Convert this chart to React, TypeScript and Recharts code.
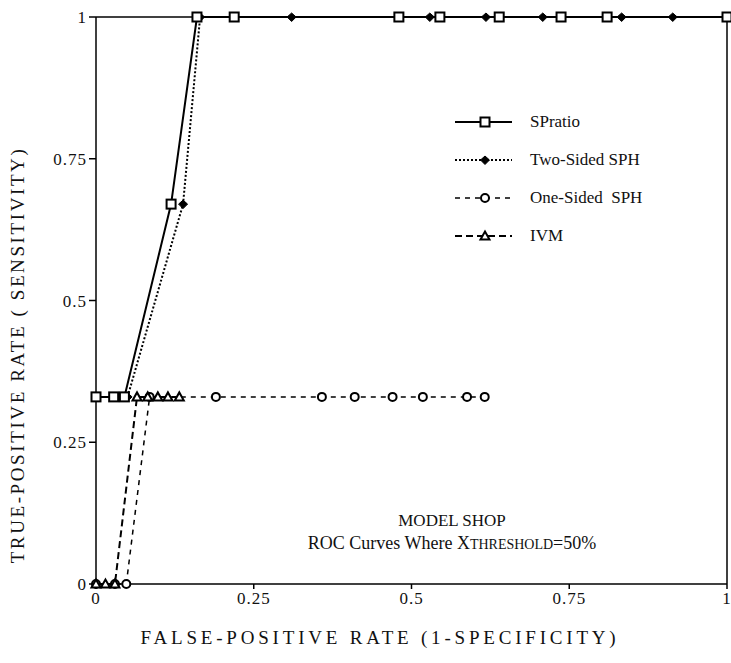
import React from 'react';
import { LineChart, Line, XAxis, YAxis, ReferenceLine, Label } from 'recharts';

// false-positive rate (x) / true-positive rate (y) per method
const spRatioFpr = [0, 0.028, 0.045, 0.119, 0.16, 0.219, 0.48, 0.545, 0.639, 0.737, 0.81, 1];
const spRatioTpr = [0.33, 0.33, 0.33, 0.67, 1, 1, 1, 1, 1, 1, 1, 1];

const twoSidedFpr = [0.05, 0.138, 0.165, 0.31, 0.529, 0.618, 0.708, 0.833, 0.914, 1];
const twoSidedTpr = [0.33, 0.67, 1, 1, 1, 1, 1, 1, 1, 1];

const oneSidedFpr = [0, 0.03, 0.048, 0.085, 0.19, 0.358, 0.41, 0.47, 0.518, 0.588, 0.616];
const oneSidedTpr = [0, 0, 0, 0.33, 0.33, 0.33, 0.33, 0.33, 0.33, 0.33, 0.33];

const ivmFpr = [0, 0.015, 0.03, 0.065, 0.082, 0.098, 0.114, 0.132];
const ivmTpr = [0, 0, 0, 0.33, 0.33, 0.33, 0.33, 0.33];

const axisTicks = [0, 0.25, 0.5, 0.75, 1];

const toPoints = (xs: number[], ys: number[]) => xs.map((x, i) => ({ x, y: ys[i] }));

const spRatio = toPoints(spRatioFpr, spRatioTpr);
const twoSided = toPoints(twoSidedFpr, twoSidedTpr);
const oneSided = toPoints(oneSidedFpr, oneSidedTpr);
const ivm = toPoints(ivmFpr, ivmTpr);

const FONT = '"Liberation Serif", "Times New Roman", serif';

const SquareMark = ({ cx, cy }: any) => (
  <rect x={cx - 4.5} y={cy - 4.5} width={9} height={9} fill="#fff" stroke="#000" strokeWidth={2} />
);
const DiamondMark = ({ cx, cy }: any) => (
  <path d={`M${cx - 4.5},${cy} L${cx},${cy - 4} L${cx + 4.5},${cy} L${cx},${cy + 4.5} Z`} fill="#000" stroke="#000" strokeWidth={1} />
);
const CircleMark = ({ cx, cy }: any) => (
  <circle cx={cx} cy={cy} r={4} fill="#fff" stroke="#000" strokeWidth={2} />
);
const TriangleMark = ({ cx, cy }: any) => (
  <path d={`M${cx - 4.5},${cy + 3.5} L${cx},${cy - 4.5} L${cx + 4.5},${cy + 3.5} Z`} fill="#fff" stroke="#000" strokeWidth={2} />
);

const legendRows = [
  { name: 'SPratio', dash: undefined, width: 2, Mark: SquareMark },
  { name: 'Two-Sided SPH', dash: '2 2', width: 2, Mark: DiamondMark },
  { name: 'One-Sided\u00a0 SPH', dash: '5 5', width: 1.5, Mark: CircleMark },
  { name: 'IVM', dash: '7 4', width: 2, Mark: TriangleMark },
];

const dotFn = (Mark: any) => (props: any) => <Mark key={`${props.index}`} cx={props.cx} cy={props.cy} />;

// body margin off: the chart fills the whole 731x663 window so the right edge is not cut
export default function App() {
  return (
    <div style={{ position: 'relative', width: 731, height: 663, fontFamily: FONT }}>
      <style>{'html,body{margin:0;padding:0;overflow:hidden}'}</style>
      <LineChart width={731} height={663} margin={{ top: 17, right: 4, left: 8, bottom: 0 }}>
        <XAxis
          type="number"
          dataKey="x"
          domain={[0, 1]}
          ticks={axisTicks}
          interval={0}
          height={79}
          stroke="#000"
          strokeWidth={1.5}
          tickSize={5}
          tickMargin={3}
          tick={{ fill: '#111', fontSize: 17, fontFamily: FONT, letterSpacing: 1 }}
          tickFormatter={(v: number) => String(v)}
        >
          <Label
            content={({ viewBox }: any) => (
              <text x={viewBox.x + 284} y={viewBox.y + 60} textAnchor="middle" fontFamily={FONT} fontSize={19} letterSpacing={3.8} fill="#111">
                FALSE-POSITIVE RATE (1-SPECIFICITY)
              </text>
            )}
          />
        </XAxis>
        <YAxis
          type="number"
          dataKey="y"
          domain={[0, 1]}
          ticks={axisTicks}
          interval={0}
          width={88}
          stroke="#000"
          strokeWidth={1.5}
          tickSize={7}
          tickMargin={2}
          tick={{ fill: '#111', fontSize: 17, fontFamily: FONT, letterSpacing: 1 }}
          tickFormatter={(v: number) => String(v)}
        >
          <Label
            content={({ viewBox }: any) => {
              const x = 24;
              const y = viewBox.y + 338;
              return (
                <text x={x} y={y} transform={`rotate(-90 ${x} ${y})`} textAnchor="middle" fontFamily={FONT} fontSize={19} letterSpacing={2.6} fill="#111">
                  TRUE-POSITIVE RATE ( SENSITIVITY)
                </text>
              );
            }}
          />
        </YAxis>
        <ReferenceLine x={1} stroke="#000" strokeWidth={1.5} />
        <ReferenceLine y={1} stroke="#000" strokeWidth={1.5} />
        <Line data={oneSided} dataKey="y" stroke="#000" strokeWidth={1.5} strokeDasharray="5 5" dot={dotFn(CircleMark)} isAnimationActive={false} />
        <Line data={ivm} dataKey="y" stroke="#000" strokeWidth={2} strokeDasharray="7 4" dot={dotFn(TriangleMark)} isAnimationActive={false} />
        <Line data={twoSided} dataKey="y" stroke="#000" strokeWidth={2} strokeDasharray="2 2" dot={dotFn(DiamondMark)} isAnimationActive={false} />
        <Line data={spRatio} dataKey="y" stroke="#000" strokeWidth={2} dot={dotFn(SquareMark)} isAnimationActive={false} />
      </LineChart>
      <svg width={731} height={663} style={{ position: 'absolute', left: 0, top: 0, pointerEvents: 'none' }}>
        <g transform="translate(8,8)">
          {legendRows.map((r, i) => {
            const y = 114 + i * 38;
            return (
              <g key={r.name}>
                <line x1={447} x2={504} y1={y} y2={y} stroke="#000" strokeWidth={r.width} strokeDasharray={r.dash} />
                <r.Mark cx={477} cy={y} />
                <text x={522} y={y + 5} fontFamily={FONT} fontSize={17} fill="#111">{r.name}</text>
              </g>
            );
          })}
          <text x={444} y={518} textAnchor="middle" fontFamily={FONT} fontSize={17} fill="#111">MODEL SHOP</text>
          <text x={444} y={541} textAnchor="middle" fontFamily={FONT} fontSize={18} fill="#111">
            ROC Curves Where X<tspan fontSize={14}>THRESHOLD</tspan>=50%
          </text>
        </g>
      </svg>
    </div>
  );
}
